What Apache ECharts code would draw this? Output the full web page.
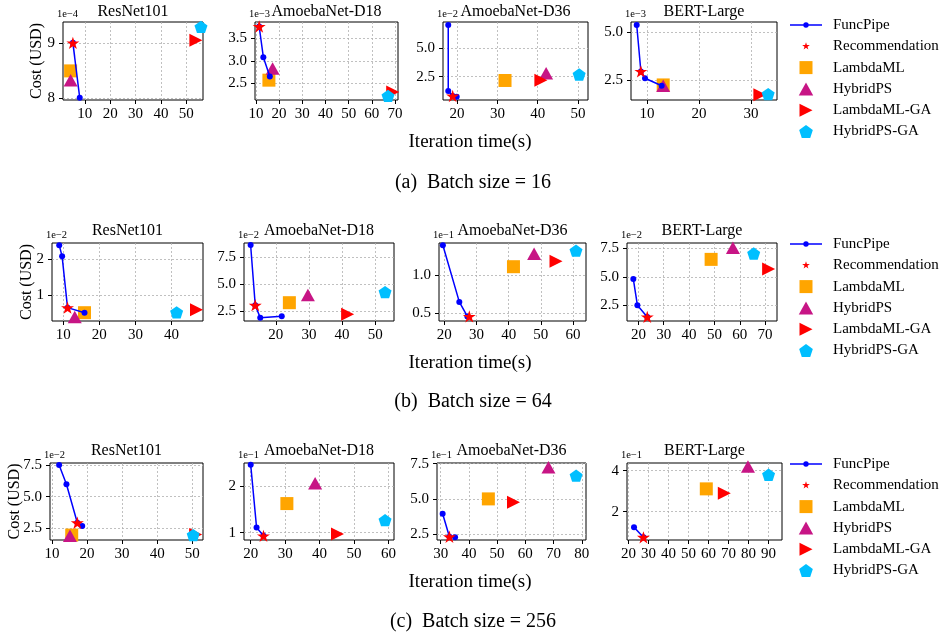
<!DOCTYPE html>
<html><head><meta charset="utf-8">
<script src="https://cdn.jsdelivr.net/npm/echarts@6/dist/echarts.min.js"></script>
<style>html,body{margin:0;padding:0;background:#fff}#c{width:941px;height:638px}</style>
</head><body><div id="c"></div>
<script>
// ---------- data ----------
const models = ['ResNet101','AmoebaNet-D18','AmoebaNet-D36','BERT-Large'];
const batchLabels = ['(a)  Batch size = 16','(b)  Batch size = 64','(c)  Batch size = 256'];
const methods = ['FuncPipe','Recommendation','LambdaML','HybridPS','LambdaML-GA','HybridPS-GA'];
// exponent of cost axis for each subplot (row-major: batch 16, 64, 256 x models)
const exponents = ['1e\u22124','1e\u22123','1e\u22122','1e\u22123',
                   '1e\u22122','1e\u22122','1e\u22121','1e\u22122',
                   '1e\u22122','1e\u22121','1e\u22121','1e\u22121'];
// [iteration time (s), cost (scaled by exponent)]
const funcPipe = [
  [[5.3,9.0],[8.0,8.0]],
  [[11.4,3.76],[13.2,3.08],[16.0,2.65]],
  [[17.8,7.05],[17.8,1.24],[18.9,0.80],[19.9,0.74]],
  [[8.0,5.38],[8.8,2.95],[9.6,2.59],[12.8,2.20]],
  [[8.9,2.39],[9.7,2.08],[11.2,0.66],[15.9,0.52]],
  [[12.4,8.58],[13.8,3.03],[15.3,1.88],[21.8,2.00]],
  [[19.6,1.39],[24.7,0.65],[27.2,0.46]],
  [[18.0,4.80],[19.6,2.50],[23.5,1.47]],
  [[12.0,7.50],[14.1,5.98],[17.2,2.94],[18.6,2.68]],
  [[20.0,2.47],[21.7,1.11],[23.7,0.93]],
  [[30.7,3.95],[33.1,2.31],[35.1,2.27]],
  [[22.8,1.24],[27.5,0.75]]
];
const recommendation = [[5.3,9.0],[11.4,3.76],[18.9,0.80],[8.8,2.95],
                        [11.2,0.66],[13.8,3.03],[27.8,0.46],[23.5,1.47],
                        [17.2,2.94],[23.7,0.93],[33.1,2.31],[27.5,0.75]];
const lambdaML = [[4.4,8.49],[15.6,2.57],[31.9,2.17],[13.1,2.24],
                  [15.9,0.52],[24.1,3.26],[41.5,1.11],[48.7,6.53],
                  [15.6,1.97],[30.5,1.63],[46.9,5.00],[58.9,3.11]];
const hybridPS = [[4.4,8.32],[17.2,2.83],[42.1,2.80],[13.1,2.20],
                  [13.2,0.40],[29.7,3.97],[47.9,1.28],[57.3,7.55],
                  [15.1,1.92],[38.7,2.07],[68.2,7.25],[79.7,4.20]];
const lambdaMLGA = [[53.8,9.05],[69.0,2.31],[40.8,2.20],[31.7,1.72],
                    [46.9,0.60],[41.7,2.20],[54.7,1.18],[71.4,5.68],
                    [51.0,2.02],[45.2,0.97],[55.8,4.76],[67.9,2.90]];
const hybridPSGA = [[55.8,9.29],[67.0,2.22],[50.3,2.70],[33.3,1.76],
                    [41.4,0.53],[53.0,4.24],[60.9,1.32],[65.5,7.05],
                    [50.3,1.97],[59.0,1.27],[78.0,6.65],[90.0,3.80]];
// tick labels
const xTicks = [[10,20,30,40,50],[10,20,30,40,50,60,70],[20,30,40,50],[10,20,30],
                [10,20,30,40],[20,30,40,50],[20,30,40,50,60],[20,30,40,50,60,70],
                [10,20,30,40,50],[20,30,40,50,60],[30,40,50,60,70,80],[20,30,40,50,60,70,80,90]];
const yTicks = [[8,9],[2.5,3.0,3.5],[2.5,5.0],[2.5,5.0],
                [1,2],[2.5,5.0,7.5],[0.5,1.0],[2.5,5.0,7.5],
                [2.5,5.0,7.5],[1,2],[2.5,5.0,7.5],[2,4]];

// ---------- layout ----------
const xRange = [[1.4,56.6],[9.6,71.3],[16.5,52.5],[6.9,35],
                [6.9,48.7],[10.4,55.7],[18.4,64],[15.5,74.7],
                [9.4,53.1],[18.05,61.6],[28.7,81.5],[19.3,96.7]];
const yRange = [[7.96,9.38],[2.13,3.86],[0.45,7.32],[1.45,5.54],
                [0.29,2.45],[1.57,8.77],[0.40,1.42],[1.11,7.97],
                [1.58,7.66],[0.84,2.51],[2.08,7.55],[0.62,4.37]];
const boxes = [[63,22,203,100],[255,22,398,100],[443,22,588,100],[631,22,777,100],
               [52,243,203,321],[244,243,394,321],[439,243,586,321],[627,243,777,321],
               [50,463,203,540],[244,463,394,540],[437,463,586,540],[627,463,782,540]];
const titleY = [12, 231, 451];
const costLabelX = [37, 27, 15];
const xNameY = [142, 363, 582];
const captionY = [183, 402, 622];
const legendTop = [12.5, 231.5, 451.5];

const FONT = '"Liberation Serif","Times New Roman",serif';
const STAR = 'path://M50,0L61.2,34.5L97.6,34.5L68.2,55.9L79.4,90.5L50,69.1L20.6,90.5L31.8,55.9L2.4,34.5L38.8,34.5Z';
const STAR_LEGEND = 'path://M-28,-30ZM128,130ZM50,0L61.2,34.5L97.6,34.5L68.2,55.9L79.4,90.5L50,69.1L20.6,90.5L31.8,55.9L2.4,34.5L38.8,34.5Z';
const PENT = 'path://M50,0L97.6,34.5L79.4,90.5L20.6,90.5L2.4,34.5Z';
const RTRI = 'path://M0,0L100,50L0,100Z';
const SQR = 'path://M0,0H100V100H0Z';
const TRI = 'path://M50,0L100,90L0,90Z';
const LINE_DOT = 'path://M0,9.3H32V10.7H0ZM13.3,10A2.7,2.7 0 1,1 18.7,10A2.7,2.7 0 1,1 13.3,10Z';
const styles = {
  'Recommendation': {symbol: STAR, legend: STAR_LEGEND, size: 13, color: '#ff0000'},
  'LambdaML': {symbol: SQR, legend: SQR, size: 13, color: '#ffa500'},
  'HybridPS': {symbol: TRI, legend: TRI, size: 14, color: '#c71585'},
  'LambdaML-GA': {symbol: RTRI, legend: RTRI, size: 13, color: '#ff0000'},
  'HybridPS-GA': {symbol: PENT, legend: PENT, size: 13, color: '#00bfff'}
};
const scatterData = {
  'Recommendation': recommendation, 'LambdaML': lambdaML, 'HybridPS': hybridPS,
  'LambdaML-GA': lambdaMLGA, 'HybridPS-GA': hybridPSGA
};

const grids = [], xAxes = [], yAxes = [], series = [], graphics = [];
boxes.forEach((b, i) => {
  const row = Math.floor(i / 4);
  grids.push({left: b[0], top: b[1], width: b[2]-b[0], height: b[3]-b[1],
    show: true, borderColor: '#000', borderWidth: 1, backgroundColor: 'rgba(0,0,0,0)', containLabel: false});
  const yDec = yTicks[i].some(v => Math.abs(v - Math.round(v)) > 1e-9) ? 1 : 0;
  const split = {show: true, lineStyle: {color: '#b0b0b0', type: [2, 2], width: 0.8}};
  xAxes.push({type: 'value', gridIndex: i, min: xRange[i][0], max: xRange[i][1],
    axisLine: {show: false},
    axisTick: {show: true, length: 4, customValues: xTicks[i], lineStyle: {color: '#000', width: 1}},
    axisLabel: {customValues: xTicks[i], fontSize: 15, fontFamily: FONT, color: '#000', margin: 7,
      formatter: v => String(Math.round(v))},
    splitLine: split});
  yAxes.push({type: 'value', gridIndex: i, min: yRange[i][0], max: yRange[i][1],
    axisLine: {show: false},
    axisTick: {show: true, length: 4, customValues: yTicks[i], lineStyle: {color: '#000', width: 1}},
    axisLabel: {customValues: yTicks[i], fontSize: 15, fontFamily: FONT, color: '#000', margin: 8,
      formatter: v => Number(v).toFixed(yDec)},
    splitLine: split});
  // series: drawn in z-order of the reference
  ['LambdaML','HybridPS','LambdaML-GA','HybridPS-GA'].forEach(m => {
    const s = styles[m];
    series.push({type: 'scatter', name: m, xAxisIndex: i, yAxisIndex: i, data: [scatterData[m][i]],
      symbol: s.symbol, symbolSize: s.size, symbolKeepAspect: true, itemStyle: {color: s.color, opacity: 1}, z: 2});
  });
  series.push({type: 'line', name: 'FuncPipe', xAxisIndex: i, yAxisIndex: i, data: funcPipe[i],
    symbol: 'circle', symbolSize: 6, showSymbol: true, color: '#0000ff',
    lineStyle: {width: 1.5, color: '#0000ff'}, itemStyle: {color: '#0000ff'}, z: 3});
  const r = styles['Recommendation'];
  series.push({type: 'scatter', name: 'Recommendation', xAxisIndex: i, yAxisIndex: i, data: [recommendation[i]],
    symbol: r.symbol, symbolSize: r.size, symbolKeepAspect: true, itemStyle: {color: r.color, opacity: 1}, z: 4});

  // texts
  graphics.push({type: 'text', x: (b[0]+b[2])/2, y: titleY[row],
    style: {text: models[i % 4], fontSize: 16, fontFamily: FONT, fill: '#000', align: 'center', verticalAlign: 'middle'}});
  graphics.push({type: 'text', x: b[0]-6, y: b[1]-2,
    style: {text: exponents[i], fontSize: 10.5, fontFamily: FONT, fill: '#000', align: 'left', verticalAlign: 'bottom'}});
});
[0,1,2].forEach(r => {
  const b = boxes[r*4];
  graphics.push({type: 'text', x: costLabelX[r], y: (b[1]+b[3])/2, rotation: Math.PI/2,
    style: {text: 'Cost (USD)', fontSize: 16, fontFamily: FONT, fill: '#000', align: 'center', verticalAlign: 'middle'}});
  graphics.push({type: 'text', x: 470, y: xNameY[r],
    style: {text: 'Iteration time(s)', fontSize: 19, fontFamily: FONT, fill: '#000', align: 'center', verticalAlign: 'middle'}});
  graphics.push({type: 'text', x: 473, y: captionY[r],
    style: {text: batchLabels[r], fontSize: 20, fontFamily: FONT, fill: '#000', align: 'center', verticalAlign: 'middle'}});
});

const legendData = methods.map(m => m === 'FuncPipe'
  ? {name: m, icon: LINE_DOT, itemStyle: {color: '#0000ff'}}
  : {name: m, icon: styles[m].legend, itemStyle: {color: styles[m].color}});
const legends = legendTop.map(t => ({
  orient: 'vertical', left: 785, top: t, itemWidth: 32, itemHeight: 13, itemGap: 6.3,
  selectedMode: false, data: legendData, symbolKeepAspect: true,
  textStyle: {fontSize: 15, lineHeight: 15, fontFamily: FONT, color: '#000', padding: [0,0,0,6]}
}));

const chart = echarts.init(document.getElementById('c'));
chart.setOption({
  animation: false,
  backgroundColor: '#fff',
  grid: grids, xAxis: xAxes, yAxis: yAxes, series: series,
  legend: legends, graphic: graphics
});
</script></body></html>
